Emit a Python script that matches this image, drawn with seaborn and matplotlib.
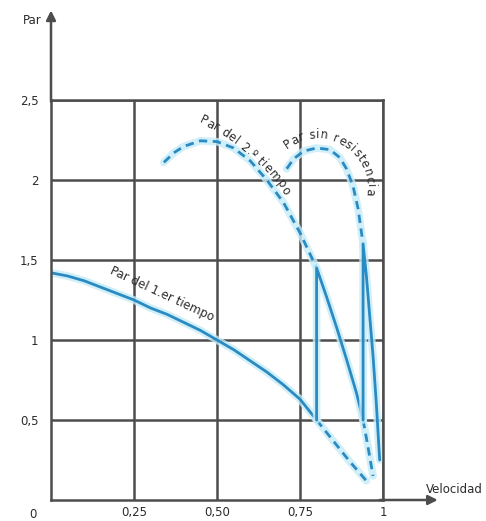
import numpy as np
import pandas as pd
import matplotlib
matplotlib.use("Agg")
import matplotlib.pyplot as plt
import seaborn as sns

# data (velocidad, par)
t1_solid_x = [0.0, 0.05, 0.1, 0.15, 0.2, 0.25, 0.3, 0.35, 0.4, 0.45, 0.5,
              0.55, 0.6, 0.65, 0.7, 0.75, 0.8]
t1_solid_y = [1.42, 1.40, 1.37, 1.33, 1.29, 1.25, 1.20, 1.16, 1.11, 1.06, 1.0,
              0.94, 0.87, 0.80, 0.72, 0.63, 0.5]
t1_dash_x = [0.8, 0.85, 0.9, 0.95]
t1_dash_y = [0.5, 0.37, 0.24, 0.12]

t2_dash_x = [0.34, 0.37, 0.4, 0.45, 0.5, 0.55, 0.6, 0.65, 0.7, 0.75, 0.8]
t2_dash_y = [2.11, 2.17, 2.21, 2.245, 2.24, 2.2, 2.12, 2.0, 1.86, 1.67, 1.45]
t2_solid_x = [0.8, 0.8, 0.83, 0.86, 0.89, 0.92, 0.94]
t2_solid_y = [0.5, 1.45, 1.27, 1.08, 0.88, 0.67, 0.5]
t2_tail_x = [0.94, 0.955, 0.97]
t2_tail_y = [0.5, 0.33, 0.15]

sr_dash_x = [0.71, 0.73, 0.76, 0.8, 0.84, 0.87, 0.89, 0.91, 0.925, 0.94]
sr_dash_y = [2.07, 2.13, 2.18, 2.2, 2.19, 2.14, 2.07, 1.96, 1.82, 1.6]
sr_solid_x = [0.94, 0.94, 0.95, 0.96, 0.97, 0.98, 0.99]
sr_solid_y = [0.5, 1.6, 1.4, 1.15, 0.9, 0.6, 0.25]

x_ticks = [0.25, 0.5, 0.75, 1.0]
x_labels = ["0,25", "0,50", "0,75", "1"]
y_ticks = [0.5, 1.0, 1.5, 2.0, 2.5]
y_labels = ["0,5", "1", "1,5", "2", "2,5"]

sns.set_style("white")
plt.rcParams["font.family"] = ["DejaVu Sans"]

blue = "#2a8ac2"
glow = "#c6ebf8"
gray = "#4d4d4d"
txt = "#2b2b2b"

W, H = 486, 521
fig = plt.figure(figsize=(W / 100, H / 100), dpi=100)
ax = fig.add_axes([51 / W, 21 / H, 332 / W, 400 / H])

def curve(xs, ys, dashed):
    df = pd.DataFrame({"v": xs, "p": ys})
    sns.lineplot(data=df, x="v", y="p", sort=False, estimator=None, ax=ax,
                 color=glow, lw=5.5, alpha=0.8, solid_capstyle="round")
    sns.lineplot(data=df, x="v", y="p", sort=False, estimator=None, ax=ax,
                 color=blue, lw=2, dashes=False,
                 linestyle=(0, (3, 2)) if dashed else "-")

curve(t1_solid_x, t1_solid_y, False)
curve(t1_dash_x, t1_dash_y, True)
curve(t2_dash_x, t2_dash_y, True)
curve(t2_solid_x, t2_solid_y, False)
curve(t2_tail_x, t2_tail_y, True)
curve(sr_dash_x, sr_dash_y, True)
curve(sr_solid_x, sr_solid_y, False)

ax.set_xlim(0, 1)
ax.set_ylim(0, 2.5)
ax.set_xticks(x_ticks)
ax.set_xticklabels(x_labels)
ax.set_yticks(y_ticks)
ax.set_yticklabels(y_labels)
ax.tick_params(length=0, labelsize=8.5, labelcolor=txt)
ax.tick_params(axis="x", pad=4)
ax.tick_params(axis="y", pad=9)
ax.set_xlabel("")
ax.set_ylabel("")
ax.grid(True, color=gray, lw=1.8)
ax.set_axisbelow(True)
for s in ax.spines.values():
    s.set_color(gray)
    s.set_linewidth(1.8)

# axis arrows
arr = dict(arrowstyle="-|>", color=gray, lw=1.8, mutation_scale=14, shrinkA=0, shrinkB=0)
ax.annotate("", xy=(1.165, 0), xytext=(0.99, 0), arrowprops=arr, annotation_clip=False)
ax.annotate("", xy=(0, 3.06), xytext=(0, 2.49), arrowprops=arr, annotation_clip=False)

ax.text(-0.055, -0.09, "0", fontsize=8.5, color=txt, ha="center", va="center", clip_on=False)
ax.text(-0.027, 3.0, "Par", fontsize=8.5, color=txt, ha="right", va="center", clip_on=False)
ax.text(1.30, 0.065, "Velocidad", fontsize=8.5, color=txt, ha="right", va="center", clip_on=False)

ax.text(0.335, 1.285, "Par del 1.er tiempo", fontsize=8.5, color=txt, rotation=-25,
        ha="center", va="center")


def arc_text(s, cx, cy, r, a0, a1, size):
    # characters along a circle, centre (cx, cy) in figure pixels from bottom-left,
    # from angle a0 to a1 (degrees, running clockwise)
    renderer = fig.canvas.get_renderer()
    prop = matplotlib.font_manager.FontProperties(size=size)
    def wid(u):
        if not u:
            return 0.0
        return renderer.get_text_width_height_descent(u.replace(" ", "\u00a0"), prop, ismath=False)[0]
    cum = [wid(s[:i]) for i in range(len(s) + 1)]
    widths = [cum[i + 1] - cum[i] for i in range(len(s))]
    span = np.radians(a0 - a1)
    k = span * r / sum(widths)
    ang = np.radians(a0)
    for ch, w in zip(s, widths):
        ang -= w * k / 2 / r
        fig.text((cx + r * np.cos(ang)) / W, (cy + r * np.sin(ang)) / H, ch,
                 fontsize=size, color=txt, rotation=np.degrees(ang) - 90,
                 rotation_mode="anchor", ha="center", va="center")
        ang -= w * k / 2 / r


arc_text("Par del 2.º tiempo", 102, H - 324, 227, 64.5, 35, 8.5)
arc_text("Par sin resistencia", 317, H - 188, 53, 128, -9, 8.5)

fig.savefig("out.png", dpi=100)
